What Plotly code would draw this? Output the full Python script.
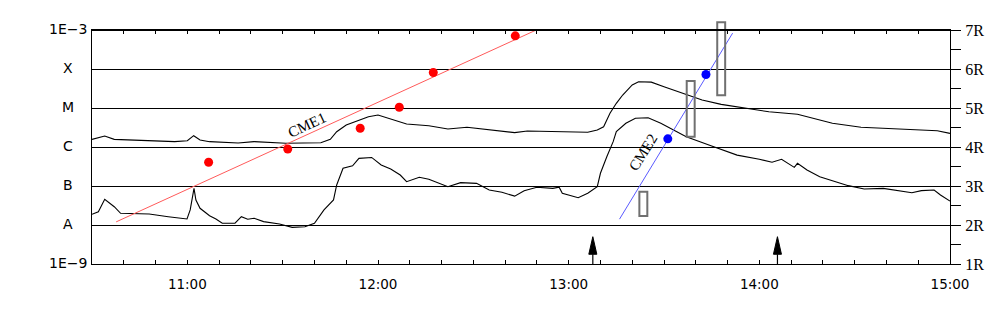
import math
import plotly.graph_objects as go

# ---------------- data ----------------
# GOES long channel (upper curve), W/m^2
LONG_TIMES = ["10:30", "10:34", "10:37", "10:44", "10:56", "11:00", "11:02", "11:04", "11:07", "11:16",
              "11:21", "11:31", "11:42", "11:45", "11:47", "11:50", "11:53", "11:57", "12:00", "12:04",
              "12:09", "12:16", "12:22", "12:28", "12:35", "12:43", "12:47", "12:57", "13:06", "13:09",
              "13:11", "13:13", "13:15", "13:17", "13:20", "13:22", "13:26", "13:30", "13:36", "13:42",
              "13:48", "13:56", "14:03", "14:12", "14:19", "14:23", "14:32", "14:43", "14:52", "14:56",
              "15:00"]
LONG_FLUX = [1.57e-6, 1.91e-6, 1.57e-6, 1.49e-6, 1.37e-6, 1.45e-6, 1.95e-6, 1.51e-6, 1.37e-6, 1.27e-6,
             1.37e-6, 1.25e-6, 1.29e-6, 1.57e-6, 2.47e-6, 3.67e-6, 4.45e-6, 5.98e-6, 6.6e-6, 5.2e-6,
             3.9e-6, 3.5e-6, 2.9e-6, 3.2e-6, 2.73e-6, 2.33e-6, 2.57e-6, 2.47e-6, 2.38e-6, 2.73e-6,
             3.3e-6, 7.3e-6, 1.32e-5, 2.15e-5, 3.9e-5, 4.7e-5, 4.6e-5, 3.5e-5, 2.4e-5, 1.6e-5,
             1.24e-5, 9.8e-6, 8.0e-6, 6.9e-6, 4.9e-6, 4.05e-6, 3.2e-6, 2.9e-6, 2.73e-6, 2.62e-6,
             2.24e-6]

# GOES short channel (lower curve), W/m^2
SHORT_TIMES = ["10:30", "10:32", "10:34", "10:37", "10:39", "10:48", "10:54", "10:59:54", "11:00:54", "11:02:06",
               "11:02:42", "11:04", "11:07", "11:09", "11:11", "11:15", "11:17", "11:19", "11:21", "11:24",
               "11:29", "11:33", "11:37", "11:40", "11:43", "11:46", "11:47", "11:49", "11:52", "11:54",
               "11:58", "12:01", "12:04", "12:07", "12:09", "12:13", "12:16", "12:22", "12:26", "12:31",
               "12:35", "12:39", "12:43", "12:46", "12:50", "12:55", "12:57", "12:58", "13:03", "13:06",
               "13:09", "13:10", "13:12", "13:14", "13:15", "13:18", "13:21", "13:25", "13:29", "13:32",
               "13:37", "13:45", "13:53", "14:00", "14:04", "14:07", "14:09", "14:11", "14:12", "14:15",
               "14:19", "14:24", "14:28", "14:33", "14:39", "14:48", "14:51", "14:55", "14:57", "15:00"]
SHORT_FLUX = [1.88e-8, 2.19e-8, 4.56e-8, 2.94e-8, 2.0e-8, 1.91e-8, 1.63e-8, 1.43e-8, 2.43e-8, 8.7e-8,
              4.38e-8, 2.68e-8, 1.73e-8, 1.43e-8, 1.11e-8, 1.11e-8, 1.63e-8, 1.40e-8, 1.49e-8, 1.22e-8,
              1.06e-8, 8.7e-9, 9.0e-9, 1.11e-8, 2.43e-8, 4.38e-8, 1.06e-7, 2.85e-7, 3.3e-7, 5.1e-7,
              5.4e-7, 3.45e-7, 2.73e-7, 1.91e-7, 1.29e-7, 1.67e-7, 1.49e-7, 9.6e-8, 1.22e-7, 1.17e-7,
              7.9e-8, 6.9e-8, 5.5e-8, 7.6e-8, 9.3e-8, 8.7e-8, 9.3e-8, 6.5e-8, 5.0e-8, 6.5e-8,
              9.6e-8, 2.12e-7, 5.6e-7, 1.37e-6, 2.47e-6, 4.05e-6, 5.45e-6, 5.6e-6, 4.05e-6, 3.0e-6,
              1.84e-6, 1.06e-6, 6.2e-7, 4.84e-7, 4.06e-7, 4.84e-7, 3.82e-7, 3.0e-7, 3.82e-7, 2.57e-7,
              1.73e-7, 1.29e-7, 1.02e-7, 8.4e-8, 8.7e-8, 6.7e-8, 7.6e-8, 7.9e-8, 5.9e-8, 4.1e-8]

# CME height-time measurements (solar radii)
CME1_TIMES = ["11:06:42", "11:31:36", "11:54:24", "12:06:42", "12:17:24", "12:43:12"]
CME1_HEIGHTS = [3.61, 3.95, 4.48, 5.02, 5.91, 6.85]
CME1_FIT_TIMES = ["10:37:36", "12:49:48"]
CME1_FIT_HEIGHTS = [2.08, 7.0]
CME1_LABEL = ("CME1", "11:37:42", 4.56)

CME2_TIMES = ["13:31:12", "13:43:12"]
CME2_HEIGHTS = [4.21, 5.86]
CME2_FIT_TIMES = ["13:16:00", "13:51:36"]
CME2_FIT_HEIGHTS = [2.15, 6.92]
CME2_LABEL = ("CME2", "13:23:30", 3.87)

# height ranges (boxes)
RANGE_TIMES = ["13:23:30", "13:38:24", "13:48:00"]
RANGE_LOW = [2.23, 4.26, 5.33]
RANGE_HIGH = [2.85, 5.69, 7.20]

# arrows marking events
ARROW_TIMES = ["13:07:36", "14:05:42"]
ARROW_TIP = 1.70

# axes
X_RANGE = ["10:30", "15:00"]
HOUR_TICKS = ["11:00", "12:00", "13:00", "14:00", "15:00"]
FLUX_LEVELS = [1e-3, 1e-4, 1e-5, 1e-6, 1e-7, 1e-8, 1e-9]
FLUX_LABELS = ["1E\u22123", "X", "M", "C", "B", "A", "1E\u22129"]
R_TICKS = [1, 2, 3, 4, 5, 6, 7]
R_LABELS = ["1R", "2R", "3R", "4R", "5R", "6R", "7R"]


def to_h(s):
    p = [float(v) for v in s.split(":")]
    while len(p) < 3:
        p.append(0.0)
    return p[0] + p[1] / 60 + p[2] / 3600


def hs(lst):
    return [to_h(s) for s in lst]


def r_frac(h):
    # position within the right (R) axis domain
    return (h - R_TICKS[0]) / (R_TICKS[-1] - R_TICKS[0])


SANS = "DejaVu Sans, Verdana, sans-serif"
SERIF = "Liberation Serif, Times New Roman, serif"

fig = go.Figure()

fig.add_trace(go.Scatter(x=hs(LONG_TIMES), y=LONG_FLUX, mode="lines",
                         line=dict(color="black", width=1.1), yaxis="y", hoverinfo="skip"))
fig.add_trace(go.Scatter(x=hs(SHORT_TIMES), y=SHORT_FLUX, mode="lines",
                         line=dict(color="black", width=1.1), yaxis="y", hoverinfo="skip"))

# CME1
fig.add_trace(go.Scatter(x=hs(CME1_FIT_TIMES), y=CME1_FIT_HEIGHTS, mode="lines",
                         line=dict(color="#ff5a5a", width=1), yaxis="y2"))
fig.add_trace(go.Scatter(x=hs(CME1_TIMES), y=CME1_HEIGHTS, mode="markers",
                         marker=dict(color="#ff0000", size=9), yaxis="y2"))
# CME2
fig.add_trace(go.Scatter(x=hs(CME2_FIT_TIMES), y=CME2_FIT_HEIGHTS, mode="lines",
                         line=dict(color="#5a5aff", width=1), yaxis="y2"))
fig.add_trace(go.Scatter(x=hs(CME2_TIMES), y=CME2_HEIGHTS, mode="markers",
                         marker=dict(color="#0000ff", size=9), yaxis="y2"))

# arrows (stem + filled head)
HEAD_LEN = 0.45      # R units
HEAD_HALF = 0.021    # hours
for t in hs(ARROW_TIMES):
    fig.add_trace(go.Scatter(x=[t, t], y=[R_TICKS[0], ARROW_TIP - HEAD_LEN], mode="lines",
                             line=dict(color="black", width=1.2), yaxis="y2"))
    fig.add_trace(go.Scatter(x=[t - HEAD_HALF, t, t + HEAD_HALF, t - HEAD_HALF],
                             y=[ARROW_TIP - HEAD_LEN, ARROW_TIP, ARROW_TIP - HEAD_LEN, ARROW_TIP - HEAD_LEN],
                             mode="lines", fill="toself", fillcolor="black",
                             line=dict(color="black", width=1), yaxis="y2"))

shapes = []
# range boxes (not clipped vertically, the last one pokes above the frame)
BOX_HALF = 1.25 / 60
for t, lo, hi in zip(hs(RANGE_TIMES), RANGE_LOW, RANGE_HIGH):
    shapes.append(dict(type="rect", xref="x", yref="y2 domain", x0=t - BOX_HALF, x1=t + BOX_HALF,
                       y0=r_frac(lo), y1=r_frac(hi), line=dict(color="#707070", width=2),
                       fillcolor="rgba(0,0,0,0)", layer="above"))
# thick C line
shapes.append(dict(type="line", xref="paper", yref="y", x0=0, x1=1,
                   y0=math.log10(FLUX_LEVELS[3]), y1=math.log10(FLUX_LEVELS[3]),
                   line=dict(color="black", width=2.2), layer="below"))
# thick top frame
shapes.append(dict(type="line", xref="paper", yref="paper", x0=0, x1=1, y0=1, y1=1,
                   line=dict(color="black", width=2.2)))

annotations = []
for lvl, lab in zip(FLUX_LEVELS, FLUX_LABELS):
    annotations.append(dict(xref="paper", yref="y", x=-0.0285, y=math.log10(lvl), yshift=1,
                            text=lab, showarrow=False, xanchor="center", yanchor="middle",
                            font=dict(family=SANS, size=14, color="black")))
for (txt, t, h), ang in ((CME1_LABEL, -25), (CME2_LABEL, -58)):
    annotations.append(dict(xref="x", yref="y2", x=to_h(t), y=h, text=txt, showarrow=False,
                            textangle=ang, xanchor="center", yanchor="middle",
                            font=dict(family=SERIF, size=15, color="black")))

# the page body has an 8px default margin: figure is sized/offset to compensate
fig.update_layout(
    width=985, height=310,
    margin=dict(l=84, r=43, t=22, b=54, pad=0),
    paper_bgcolor="white", plot_bgcolor="white",
    showlegend=False,
    shapes=shapes, annotations=annotations,
    xaxis=dict(range=hs(X_RANGE), tickmode="array", tickvals=hs(HOUR_TICKS), ticktext=HOUR_TICKS,
               ticks="inside", ticklen=4, tickcolor="black", tickwidth=1,
               minor=dict(tickmode="linear", tick0=to_h(X_RANGE[0]), dtick=1 / 6, ticks="inside",
                          ticklen=4, tickcolor="black", tickwidth=1, showgrid=False),
               showline=True, linecolor="black", linewidth=1, mirror="ticks",
               showgrid=False, zeroline=False, automargin=False, ticklabelstandoff=8,
               tickfont=dict(family=SANS, size=13.5, color="black")),
    yaxis=dict(type="log", range=[math.log10(FLUX_LEVELS[-1]), math.log10(FLUX_LEVELS[0])],
               tickmode="array", tickvals=FLUX_LEVELS, showticklabels=False, ticks="",
               showgrid=True, gridcolor="black", gridwidth=1, automargin=False,
               showline=True, linecolor="black", linewidth=1, zeroline=False),
    yaxis2=dict(overlaying="y", side="right", range=[R_TICKS[0], R_TICKS[-1]],
                tickmode="array", tickvals=R_TICKS, ticktext=R_LABELS,
                ticks="outside", ticklen=10, tickcolor="black", tickwidth=1,
                minor=dict(tickmode="linear", tick0=R_TICKS[0], dtick=0.5, ticks="outside",
                           ticklen=10, tickcolor="black", tickwidth=1, showgrid=False),
                showline=True, linecolor="black", linewidth=1, showgrid=False, zeroline=False,
                ticklabelstandoff=1, automargin=False,
                tickfont=dict(family=SERIF, size=16, color="black")),
)

fig.write_html("out.html")
